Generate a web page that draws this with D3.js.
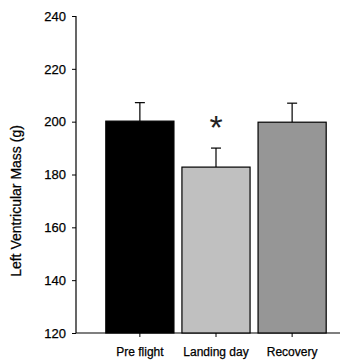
<!DOCTYPE html>
<html><head><meta charset="utf-8">
<script src="https://cdn.jsdelivr.net/npm/d3@7"></script>
<style>body{margin:0;background:#fff}text{font-family:"Liberation Sans",Arial,sans-serif}</style>
</head><body><svg id="c" width="354" height="363"></svg>
<script>
const categories=["Pre flight","Landing day","Recovery"];
const means=[200.2,182.8,199.8];
const errors=[7,7.2,7.2];
const colors=["#000000","#c0c0c0","#969696"];
const yTicks=[120,140,160,180,200,220,240];
const sig=[false,true,false];

const svg=d3.select("#c");
const y=d3.scaleLinear().domain([120,240]).range([333,16]);
const x=d3.scaleBand().domain(categories).range([102,330]).paddingInner(0.105).paddingOuter(0.05);

const ya=svg.append("g").attr("transform","translate(76,0)")
  .call(d3.axisLeft(y).tickValues(yTicks).tickSize(4).tickPadding(6).tickFormat(d3.format("d")));
ya.select(".domain").attr("stroke","#000").attr("stroke-width",1.2).attr("d","M0,"+y(240)+"V"+y(120));
ya.selectAll("text").attr("font-size",13).attr("fill","#000").attr("stroke","#000").attr("stroke-width",0.25);

const xa=svg.append("g").attr("transform","translate(0,333)")
  .call(d3.axisBottom(x).tickSize(4).tickPadding(10));
xa.select(".domain").attr("stroke","#000").attr("stroke-width",1.2).attr("d","M76,0H340");
xa.selectAll("text").attr("font-size",12).attr("fill","#000").attr("stroke","#000").attr("stroke-width",0.25);

const g=svg.append("g");
categories.forEach((c,i)=>{
  const cx=x(c)+x.bandwidth()/2;
  g.append("line").attr("x1",cx).attr("x2",cx).attr("y1",y(means[i])).attr("y2",y(means[i]+errors[i])).attr("stroke","#000").attr("stroke-width",1.2);
  g.append("line").attr("x1",cx-5).attr("x2",cx+5).attr("y1",y(means[i]+errors[i])).attr("y2",y(means[i]+errors[i])).attr("stroke","#000").attr("stroke-width",1.2);
  g.append("rect").attr("x",x(c)).attr("width",x.bandwidth()).attr("y",y(means[i])).attr("height",y(120)-y(means[i]))
    .attr("fill",colors[i]).attr("stroke","#000").attr("stroke-width",1.2);
  if(sig[i]) g.append("text").attr("x",cx).attr("y",y(means[i]+errors[i])-9).attr("text-anchor","middle").attr("font-size",34).attr("fill","#222").text("*");
});
svg.append("text").attr("transform","translate(21,201) rotate(-90)").attr("text-anchor","middle").attr("font-size",14)
  .attr("stroke","#000").attr("stroke-width",0.25).text("Left Ventricular Mass (g)");
</script></body></html>
